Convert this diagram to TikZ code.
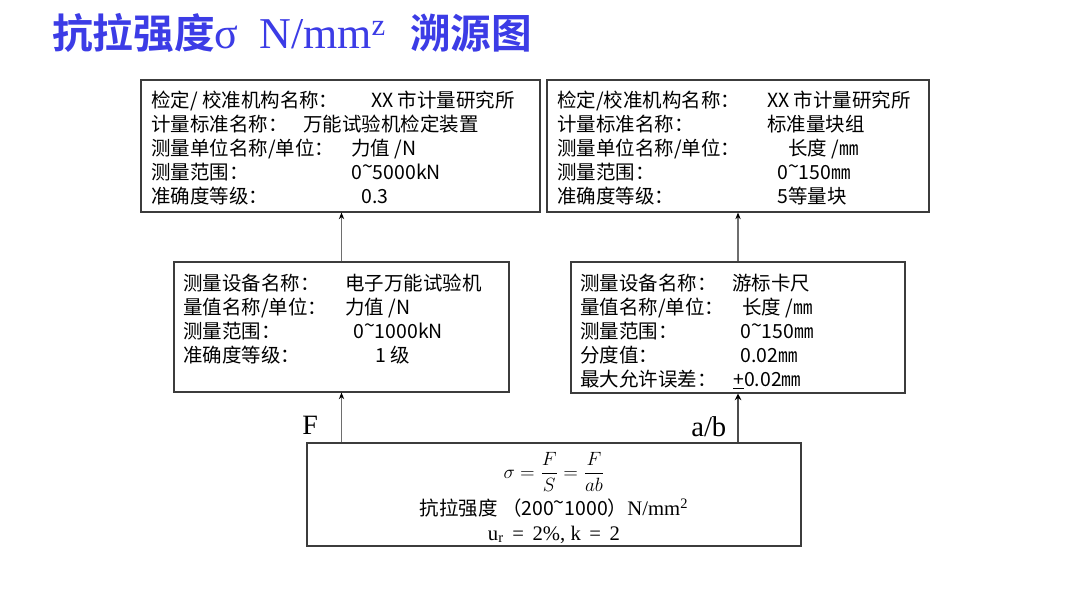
\documentclass[tikz,border=0pt]{standalone}
\usepackage{fontspec}
\setmainfont{Liberation Serif}
\newfontfamily\cjk{Noto Sans CJK SC}
\newfontfamily\cjkb{Noto Sans CJK SC Bold}
\usetikzlibrary{arrows.meta,calc}
\newcommand\tld{\raisebox{0.3em}{\textasciitilde}}
\definecolor{titleblue}{RGB}{60,60,230}
\definecolor{boxline}{RGB}{60,60,60}
\definecolor{arrline}{RGB}{110,110,110}
\tikzset{
  box/.style={draw=boxline,line width=0.8pt,fill=white,inner sep=0pt},
  txt/.style={anchor=base west,inner sep=0pt,font=\cjk\fontsize{14.6}{17}\selectfont},
  arr/.style={draw=arrline,line width=0.8pt,-{Stealth[length=5pt,width=4pt,black]}},
  arrb/.style={draw=black!70,line width=1.3pt,-{Stealth[length=5pt,width=5pt,black]}},
}
\begin{document}
\begin{tikzpicture}[x=0.75pt,y=-0.75pt]
\useasboundingbox[fill=white] (0,0) rectangle (1080,608);
% title
\node[anchor=base west,inner sep=0pt,text=titleblue,font=\cjkb\fontsize{30.5}{32}\selectfont] (t1) at (52,48) {抗拉强度};
\node[anchor=base west,inner sep=0pt,text=titleblue,font=\fontsize{33}{36}\selectfont] (t2) at (214,48) {σ};
\node[anchor=base west,inner sep=0pt,text=titleblue,font=\fontsize{33}{36}\selectfont] (t3) at (259,48) {N/mm\textsuperscript{z}};
\node[anchor=base west,inner sep=0pt,text=titleblue,font=\cjkb\fontsize{30.5}{32}\selectfont] (t4) at (410,48) {溯源图};
% boxes
\node[box,minimum width=399*0.75pt,minimum height=132*0.75pt] (b1) at (340.5,146) {};
\node[box,minimum width=382*0.75pt,minimum height=132*0.75pt] (b2) at (738,146) {};
\node[box,minimum width=335*0.75pt,minimum height=130*0.75pt] (b3) at (341.5,327) {};
\node[box,minimum width=334*0.75pt,minimum height=131*0.75pt] (b4) at (738,327.5) {};
\node[box,minimum width=494*0.75pt,minimum height=103*0.75pt] (b5) at (554,494.5) {};
% box1 text
\node[txt] (a1) at (151,107) {检定/ 校准机构名称：};
\node[txt] (a1v) at (371,107) {XX 市计量研究所};
\node[txt] (a2) at (151,131) {计量标准名称：};
\node[txt] (a2v) at (303,131) {万能试验机检定装置};
\node[txt] (a3) at (151,155) {测量单位名称/单位：};
\node[txt] (a3v) at (351,155) {力值 /N};
\node[txt] (a4) at (151,179) {测量范围：};
\node[txt] (a4v) at (351,179) {0\tld5000kN};
\node[txt] (a5) at (151,203) {准确度等级：};
\node[txt] (a5v) at (361,203) {0.3};
% box2 text
\node[txt] (c1) at (557,107) {检定/校准机构名称：};
\node[txt] (c1v) at (767,107) {XX 市计量研究所};
\node[txt] (c2) at (557,131) {计量标准名称：};
\node[txt] (c2v) at (767,131) {标准量块组};
\node[txt] (c3) at (557,155) {测量单位名称/单位：};
\node[txt] (c3v) at (788,155) {长度 /㎜};
\node[txt] (c4) at (557,179) {测量范围：};
\node[txt] (c4v) at (777,179) {0\tld150㎜};
\node[txt] (c5) at (557,203) {准确度等级：};
\node[txt] (c5v) at (777,203) {5等量块};
% box3 text
\node[txt] (d1) at (183,290) {测量设备名称：};
\node[txt] (d1v) at (345,290) {电子万能试验机};
\node[txt] (d2) at (183,314) {量值名称/单位：};
\node[txt] (d2v) at (345,314) {力值 /N};
\node[txt] (d3) at (183,338) {测量范围：};
\node[txt] (d3v) at (353,338) {0\tld1000kN};
\node[txt] (d4) at (183,362) {准确度等级：};
\node[txt] (d4v) at (375,362) {1 级};
% box4 text
\node[txt] (e1) at (580,290) {测量设备名称：};
\node[txt] (e1v) at (732,290) {游标卡尺};
\node[txt] (e2) at (580,314) {量值名称/单位：};
\node[txt] (e2v) at (742,314) {长度 /㎜};
\node[txt] (e3) at (580,338) {测量范围：};
\node[txt] (e3v) at (740,338) {0\tld150㎜};
\node[txt] (e4) at (580,362) {分度值：};
\node[txt] (e4v) at (740,362) {0.02㎜};
\node[txt] (e5) at (580,386) {最大允许误差：};
\node[txt] (e5v) at (733,386) {\underline{+}0.02㎜};
% box5 text
\node[inner sep=0pt,font=\fontsize{14.5}{16}\selectfont] (f1) at (554,472) {$\displaystyle \sigma=\frac{F}{S}=\frac{F}{ab}$};
\node[anchor=base,inner sep=0pt,font=\fontsize{14.6}{17}\selectfont] (f2) at (554,515) {{\cjk 抗拉强度 （200\tld1000）}\fontsize{15.5}{17}\selectfont N/mm\textsuperscript{2}};
\node[anchor=base,inner sep=0pt,font=\fontsize{15.5}{17}\selectfont] (f3) at (554,540) {u\textsubscript{r} \,=\, 2\%, k \,=\, 2};
% arrows
\draw[arr] (b3.north) -- (b3.north |- b1.south);
\draw[arr] (b4.north) -- (b4.north |- b2.south);
\draw[arr] (b3.south |- b5.north) -- (b3.south);
\draw[arrb] (b4.south |- b5.north) -- (b4.south);
% labels
\node[anchor=base west,inner sep=0pt,font=\fontsize{21}{23}\selectfont] (lf) at (302,434) {F};
\node[anchor=base west,inner sep=0pt,font=\fontsize{21.5}{23}\selectfont] (lab) at (691,436) {a/b};
\end{tikzpicture}
\end{document}
